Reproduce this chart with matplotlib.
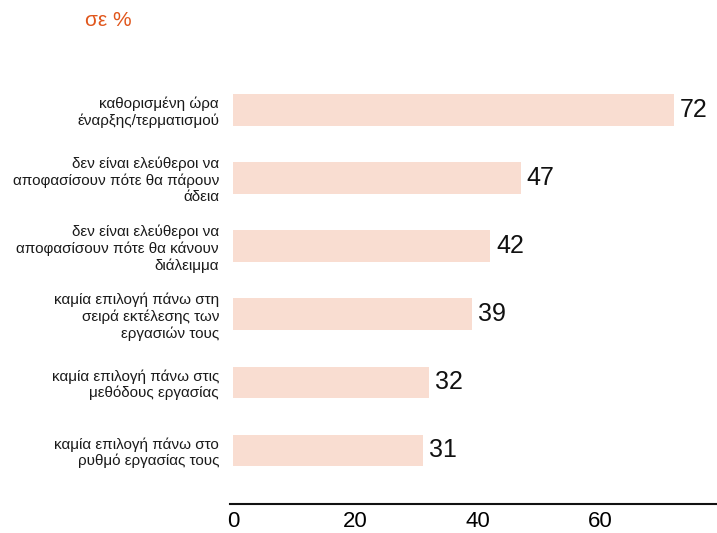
import matplotlib
matplotlib.use("Agg")
import matplotlib.pyplot as plt

plt.rcParams['font.family'] = ['Liberation Sans', 'DejaVu Sans']

categories = [
    "καθορισμένη ώρα\nέναρξης/τερματισμού",
    "δεν είναι ελεύθεροι να\nαποφασίσουν πότε θα πάρουν\nάδεια",
    "δεν είναι ελεύθεροι να\nαποφασίσουν πότε θα κάνουν\nδιάλειμμα",
    "καμία επιλογή πάνω στη\nσειρά εκτέλεσης των\nεργασιών τους",
    "καμία επιλογή πάνω στις\nμεθόδους εργασίας",
    "καμία επιλογή πάνω στο\nρυθμό εργασίας τους",
]
values = [72, 47, 42, 39, 32, 31]
xticks = [0, 20, 40, 60]

fig = plt.figure(figsize=(7.17, 5.33), dpi=100)
ax = fig.add_axes([0.321, 0.0545, 0.679, 0.840])

pos = list(range(len(categories)))
bars = ax.barh(pos, values, height=0.46, color='#f9ddd1')
ax.set_ylim(len(categories) - 1 + 0.79, -0.79)
ax.set_xlim(-0.5, 79)

ax.set_yticks(pos)
ax.set_yticklabels(categories, fontsize=11, color='#1a1a1a', ha='right',
                   linespacing=1.2)
ax.tick_params(axis='y', length=0, pad=8)
ax.set_xticks(xticks)
ax.set_xticklabels([str(t) for t in xticks], fontsize=16)
ax.tick_params(axis='x', length=0, pad=5)

for s in ['top', 'right', 'left']:
    ax.spines[s].set_visible(False)
ax.spines['bottom'].set_linewidth(1.5)
ax.spines['bottom'].set_color('#111111')

for b, v in zip(bars, values):
    ax.text(b.get_width() + 0.9, b.get_y() + b.get_height() / 2, str(v),
            va='center', ha='left', fontsize=18, color='#111111')

fig.text(0.118, 0.962, "σε %", color='#e0561c', fontsize=15, ha='left', va='center')

fig.savefig("out.png", dpi=100)
